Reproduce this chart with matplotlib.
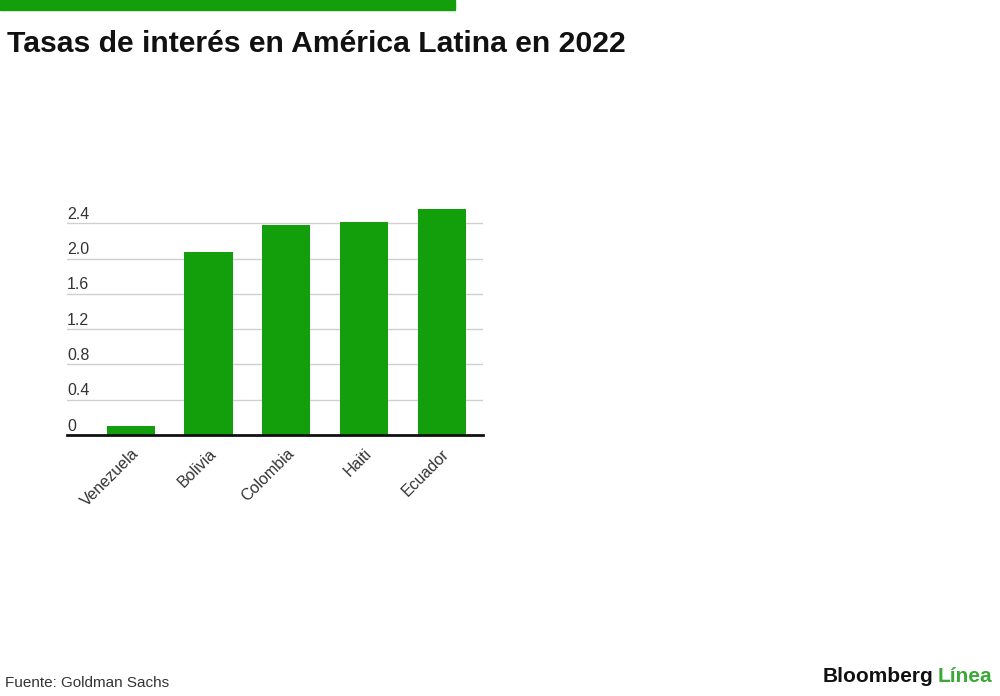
import matplotlib.pyplot as plt
import matplotlib.patches as mpatches

# data
paises = ["Venezuela", "Bolivia", "Colombia", "Haiti", "Ecuador"]
tasas = [0.10, 2.07, 2.38, 2.41, 2.56]
yticks = [0, 0.4, 0.8, 1.2, 1.6, 2.0, 2.4]
ytick_labels = ["0", "0.4", "0.8", "1.2", "1.6", "2.0", "2.4"]

verde = "#139f0b"
plt.rcParams['font.family'] = ['Liberation Sans', 'DejaVu Sans']

fig = plt.figure(figsize=(10, 6.96), dpi=100)
fig.patch.set_facecolor("white")

# green strip top left
fig.patches.append(mpatches.Rectangle((0, 1 - 10 / 696), 0.455, 10 / 696,
                                      transform=fig.transFigure, color=verde, zorder=0))

fig.text(0.007, 1 - 44 / 696, "Tasas de interés en América Latina en 2022",
         fontsize=21.7, fontweight="bold", color="#111111", va="center", ha="left")

ax = fig.add_axes([0.067, 0.375, 0.416, 0.3295])
x = range(len(paises))
ax.bar(x, tasas, width=0.62, color=verde, zorder=2)
ax.set_xlim(-0.82, 4.53)
ax.set_ylim(0, 2.6)

for s in ["top", "right", "left"]:
    ax.spines[s].set_visible(False)
ax.spines["bottom"].set_linewidth(2)
ax.spines["bottom"].set_color("#111111")
ax.spines["bottom"].set_zorder(3)

ax.set_yticks(yticks)
ax.set_yticklabels([])
ax.tick_params(axis="y", length=0)
ax.yaxis.grid(True, color="#d0d0d0", linewidth=1, zorder=0)
for v, lab in zip(yticks, ytick_labels):
    ax.annotate(lab, xy=(0, v), xycoords=("axes fraction", "data"),
                xytext=(0, 1), textcoords="offset points",
                ha="left", va="bottom", fontsize=11.5, color="#333333")

ax.set_xticks(list(x))
ax.set_xticklabels(paises, rotation=45, ha="right", rotation_mode="anchor",
                   fontsize=11.5, color="#333333")
ax.tick_params(axis="x", length=0, pad=8)

fig.text(0.005, 1 - 683 / 696, "Fuente: Goldman Sachs", fontsize=11,
         color="#333333", va="center", ha="left")

# logo
t1 = fig.text(0.823, 1 - 677 / 696, "Bloomberg", fontsize=15, fontweight="bold",
              color="#111111", va="center", ha="left")
fig.canvas.draw()
bb = t1.get_window_extent()
fig.text(bb.x1 / fig.bbox.width + 0.004, 1 - 677 / 696, "Línea", fontsize=15,
         fontweight="bold", color="#3aa935", va="center", ha="left")

fig.savefig("out.png", dpi=100)
